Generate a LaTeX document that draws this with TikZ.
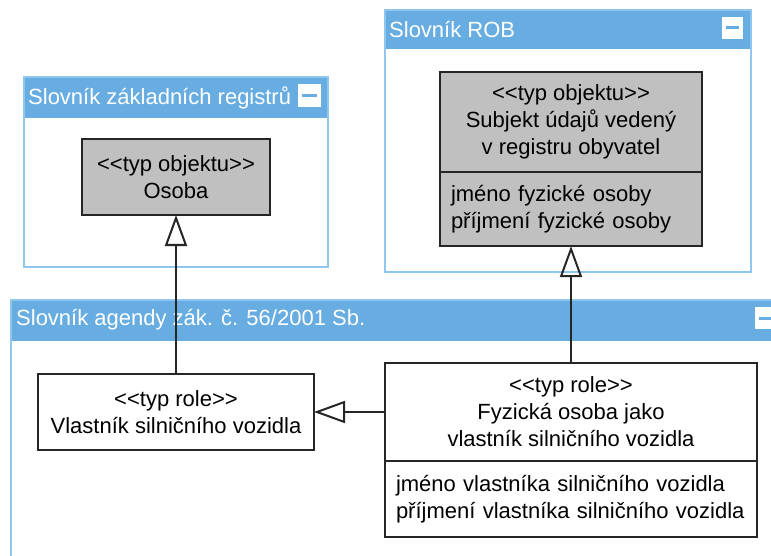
\documentclass[tikz,border=0pt]{standalone}
\usepackage{fontspec}
\setmainfont{Liberation Sans}
\usetikzlibrary{arrows.meta,positioning}
\definecolor{pkghead}{HTML}{68ADE2}
\definecolor{pkgline}{HTML}{8EC6F0}
\definecolor{clsgray}{HTML}{C0C0C0}
\newcommand{\stereo}[1]{\mbox{<}\mbox{<}#1\mbox{>}\mbox{>}}
\tikzset{
  pkgframe/.style={draw=pkgline, line width=2pt},
  pkgtitle/.style={anchor=west, text=white, inner sep=0pt, font=\fontsize{22}{26}\selectfont},
  classbox/.style={draw=black!85, line width=2pt, fill=white, align=center, inner sep=0pt,
    outer sep=0pt, font=\fontsize{22}{27}\selectfont},
  attrbox/.style={classbox, align=left, inner xsep=11pt},
  gen/.style={-{Triangle[open, length=31pt, width=22pt]}, line width=2pt, black!85}
}

\begin{document}
\begin{tikzpicture}[x=1pt, y=-1pt]
  \useasboundingbox (0,0) rectangle (771,556);
  \clip (0,0) rectangle (771,556);
  % packages
  \fill[pkghead] (24,77) rectangle (328,118);
  \draw[pkgframe] (24,77) rectangle (328,267);
  \fill[white] (298,84) rectangle (321,107);
  \draw[pkghead, line width=3pt] (302,95.5) -- (317,95.5);
  \node[pkgtitle] (zakladtitle) at (28,97.5) {Slovník základních registrů};

  \fill[pkghead] (385,10) rectangle (751,49);
  \draw[pkgframe] (385,10) rectangle (751,272);
  \fill[white] (722,17) rectangle (743,39);
  \draw[pkghead, line width=3pt] (726,28) -- (739,28);
  \node[pkgtitle] (robtitle) at (389,30) {Slovník ROB};

  \fill[pkghead] (11,300) rectangle (800,341);
  \draw[pkgframe] (11,300) rectangle (800,600);
  \fill[white] (755,307) rectangle (778,329);
  \draw[pkghead, line width=3pt] (759,318) -- (778,318);
  \node[pkgtitle] (agendatitle) at (16,320) {Slovník agendy zák. č. 56/2001 Sb.};

  % classes
  \node[classbox, fill=clsgray, minimum width=188pt, minimum height=76pt] (osoba) at (176,177)
    {\stereo{typ objektu}\\Osoba};
  \node[classbox, fill=clsgray, minimum width=262pt, minimum height=100pt] (subj) at (571,122)
    {\stereo{typ objektu}\\Subjekt údajů vedený\\v registru obyvatel};
  \node[attrbox, fill=clsgray, text width=240pt, minimum height=74pt, below=0pt of subj] (subjattr)
    {jméno fyzické osoby\\příjmení fyzické osoby};
  \node[classbox, minimum width=276pt, minimum height=76pt] (vlastnik) at (176,412)
    {\stereo{typ role}\\Vlastník silničního vozidla};
  \node[classbox, minimum width=372pt, minimum height=98pt] (fyz) at (571,412)
    {\stereo{typ role}\\Fyzická osoba jako\\vlastník silničního vozidla};
  \node[attrbox, text width=350pt, minimum height=76pt, below=0pt of fyz] (fyzattr)
    {jméno vlastníka silničního vozidla\\příjmení vlastníka silničního vozidla};

  % generalisations
  \draw[gen] (vlastnik.north) -- (osoba.south);
  \draw[gen] (fyz.north) -- (subjattr.south);
  \draw[gen] (fyz.west) -- (vlastnik.east);
\end{tikzpicture}
\end{document}
